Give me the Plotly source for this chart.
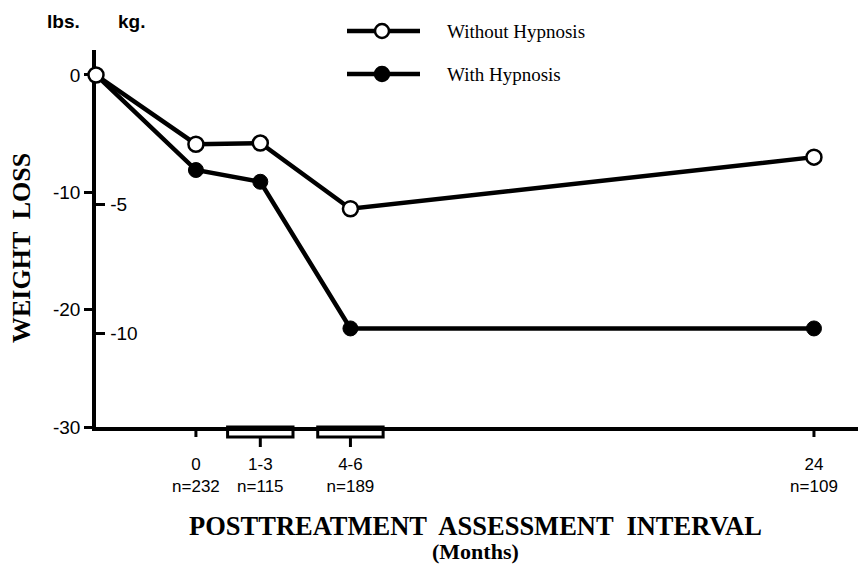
import plotly.graph_objects as go

# ---- data ----
interval_pos = [-3.88, 0, 2.5, 6, 24]          # x positions (baseline, 0, 1-3, 4-6, 24 months)
without_hyp = [0, -5.9, -5.8, -11.4, -7.0]      # lbs
with_hyp = [0, -8.1, -9.1, -21.6, -21.6]        # lbs
tick_vals = [0, 2.5, 6, 24]
tick_labels = ["0", "1-3", "4-6", "24"]
n_labels = ["n=232", "n=115", "n=189", "n=109"]
bracketed = [2.5, 6]
lbs_ticks = [0, -10, -20, -30]
lbs_tick_text = ["0", "-10", "-20", "-30"]
kg_ticks = [-5, -10]
kg_tick_text = ["-5", "-10"]
LB_PER_KG = 2.20462

W, H = 858, 581
L, R, T, B = 96, 0, 50, 154
PW, PH = W - L - R, H - T - B
x_range = [-3.88, 25.71]
y_range = [-30, 2.13]


def px(x):
    return (x - L) / PW


def py(y):
    return (H - B - y) / PH


fig = go.Figure()
fig.add_trace(go.Scatter(
    x=interval_pos, y=with_hyp, mode="lines+markers", name="With Hypnosis",
    line=dict(color="black", width=4.5),
    marker=dict(size=15, color="black", line=dict(color="black", width=1)),
    cliponaxis=False, showlegend=False, hoverinfo="skip"))
fig.add_trace(go.Scatter(
    x=interval_pos, y=without_hyp, mode="lines+markers", name="Without Hypnosis",
    line=dict(color="black", width=4.5),
    marker=dict(size=15, color="white", line=dict(color="black", width=2.5)),
    cliponaxis=False, showlegend=False, hoverinfo="skip"))
fig.add_trace(go.Scatter(x=[None], y=[None], yaxis="y2", showlegend=False, hoverinfo="skip"))

shapes = []
half_w = 1.27
for v in tick_vals:
    if v in bracketed:
        shapes.append(dict(type="rect", xref="x", yref="paper", ysizemode="pixel", yanchor=0,
                           x0=v - half_w, x1=v + half_w, y0=0, y1=-10,
                           line=dict(color="black", width=3), fillcolor="rgba(0,0,0,0)"))
        shapes.append(dict(type="line", xref="x", yref="paper", ysizemode="pixel", yanchor=0,
                           x0=v, x1=v, y0=-10, y1=-20, line=dict(color="black", width=3)))
    else:
        shapes.append(dict(type="line", xref="x", yref="paper", ysizemode="pixel", yanchor=0,
                           x0=v, x1=v, y0=0, y1=-10, line=dict(color="black", width=3)))

# manual legend
legend_rows = [("Without Hypnosis", "white", 31), ("With Hypnosis", "black", 74)]
annotations = []
for label, fill, yy in legend_rows:
    shapes.append(dict(type="line", xref="paper", yref="paper", x0=px(347), x1=px(420),
                       y0=py(yy), y1=py(yy), line=dict(color="black", width=4.5)))
    shapes.append(dict(type="circle", xref="paper", yref="paper", x0=px(375), x1=px(389),
                       y0=py(yy + 7), y1=py(yy - 7), fillcolor=fill,
                       line=dict(color="black", width=2.5)))
    annotations.append(dict(text=label, xref="paper", yref="paper", x=px(445), y=py(yy),
                            xanchor="left", yanchor="middle", showarrow=False,
                            font=dict(family="Liberation Serif", size=19, color="black")))

bold_sans = dict(family="Liberation Sans", size=19, color="black")
annotations += [
    dict(text="<b>lbs.</b>", xref="paper", yref="paper", x=px(63), y=py(21), showarrow=False,
         xanchor="center", yanchor="middle", font=bold_sans),
    dict(text="<b>kg.</b>", xref="paper", yref="paper", x=px(131), y=py(21), showarrow=False,
         xanchor="center", yanchor="middle", font=bold_sans),
    dict(text="<b>WEIGHT  LOSS</b>", xref="paper", yref="paper", x=px(22), y=py(248), textangle=-90,
         showarrow=False, xanchor="center", yanchor="middle",
         font=dict(family="Liberation Serif", size=26, color="black")),
    dict(text="<b>POSTTREATMENT  ASSESSMENT  INTERVAL</b>", xref="paper", yref="paper",
         x=px(475), y=py(526), showarrow=False, xanchor="center", yanchor="middle",
         font=dict(family="Liberation Serif", size=26.5, color="black")),
    dict(text="<b>(Months)</b>", xref="paper", yref="paper",
         x=px(475), y=py(551), showarrow=False, xanchor="center", yanchor="middle",
         font=dict(family="Liberation Serif", size=22, color="black")),
]

fig.update_layout(
    width=W, height=H, margin=dict(l=L, r=R, t=T, b=B),
    paper_bgcolor="white", plot_bgcolor="white", hovermode=False,
    xaxis=dict(range=x_range, showgrid=False, zeroline=False, showline=True,
               linecolor="black", linewidth=3.5, layer="below traces",
               tickmode="array", tickvals=tick_vals,
               ticktext=[f"{a}<br>{b}" for a, b in zip(tick_labels, n_labels)],
               ticks="outside", ticklen=19, tickcolor="rgba(0,0,0,0)",
               tickfont=dict(family="Liberation Sans", size=17, color="black")),
    yaxis=dict(range=y_range, showgrid=False, zeroline=False, showline=True,
               linecolor="black", linewidth=3.5, layer="below traces",
               tickmode="array", tickvals=lbs_ticks, ticktext=lbs_tick_text,
               ticks="outside", ticklen=8, tickwidth=3, tickcolor="black",
               tickfont=dict(family="Liberation Sans", size=19, color="black")),
    yaxis2=dict(range=[y_range[0] / LB_PER_KG, y_range[1] / LB_PER_KG], overlaying="y",
                side="left", anchor="x", showgrid=False, zeroline=False, showline=False,
                tickmode="array", tickvals=kg_ticks, ticktext=kg_tick_text,
                ticks="inside", ticklen=9, tickwidth=3, tickcolor="black",
                ticklabelposition="inside", ticklabelstandoff=6,
                tickfont=dict(family="Liberation Sans", size=19, color="black")),
    shapes=shapes, annotations=annotations,
)

fig.write_html("out.html", config={"displayModeBar": False},
               post_script="document.body.style.margin='0';")
